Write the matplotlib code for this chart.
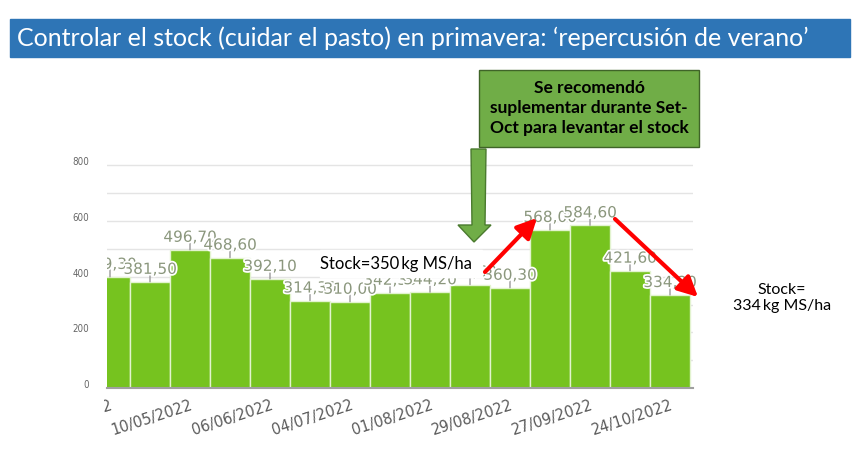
import matplotlib
matplotlib.use('Agg')
import matplotlib.pyplot as plt
import matplotlib.patheffects as pe
from matplotlib.patches import Rectangle, Polygon, FancyArrowPatch
from matplotlib.transforms import Bbox, TransformedBbox, ScaledTranslation

W, H = 862, 454

# stock (kg MS/ha) every ~2 weeks
values = [399.3, 381.5, 496.7, 468.6, 392.1, 314.3, 310.0, 342.3, 344.2,
          371.6, 360.3, 568.0, 584.6, 421.6, 334.2]
tick_labels = ['12/04/2022', '10/05/2022', '06/06/2022', '04/07/2022',
               '01/08/2022', '29/08/2022', '27/09/2022', '24/10/2022']
y_ticks = [0, 200, 400, 600, 800]

title = 'Controlar el stock (cuidar el pasto) en primavera: \u2018repercusi\u00f3n de verano\u2019'
box_text = 'Se recomend\u00f3\nsuplementar durante Set-\nOct para levantar el stock'
note_left = 'Stock=350\u2009kg MS/ha'
note_right = 'Stock=\n334\u2009kg MS/ha'


def px(x, y):
    # pixel position (top-left origin) -> figure fraction
    return (x / W, 1 - y / H)


fig = plt.figure(figsize=(W / 100, H / 100), dpi=100)
ax = fig.add_axes([107 / W, 1 - 388 / H, (693 - 107) / W, (388 - 157) / H])

n = len(values)
ax.bar(range(n), values, width=1, color='#76c31f', edgecolor='#e2f3cf',
       linewidth=1, zorder=2)
ax.set_xlim(-0.075, n - 0.5 + 0.075)
ax.set_ylim(0, 830)

ax.set_yticks(y_ticks)
ax.set_yticks(range(100, 801, 200), minor=True)
ax.yaxis.grid(True, which='both', color='#e4e4e4', lw=1)
ax.set_axisbelow(True)
ax.tick_params(axis='y', which='both', length=0, pad=13, labelsize=7,
               labelcolor='#666666')
for lbl in ax.get_yticklabels():
    lbl.set_fontstretch('condensed')
    lbl.set_transform(lbl.get_transform() + ScaledTranslation(0, 3 / 72, fig.dpi_scale_trans))

ax.set_xticks(range(0, n, 2))
ax.set_xticklabels(tick_labels, rotation=18, ha='right', va='top',
                   rotation_mode='anchor', fontsize=10.5, color='#5a5a5a')
ax.tick_params(axis='x', length=0, pad=7)
first = ax.get_xticklabels()[0]
first.set_clip_box(TransformedBbox(Bbox.from_extents(104 / W, 0, 1, 1), fig.transFigure))
first.set_clip_on(True)

for s in ['top', 'right', 'left']:
    ax.spines[s].set_visible(False)
ax.spines['bottom'].set_color('#a0a0a0')
ax.spines['bottom'].set_linewidth(1.5)

# value labels with little ticks
clip = TransformedBbox(Bbox.from_extents(107 / W, 0, 1, 1), fig.transFigure)
for i, v in enumerate(values):
    ax.annotate('', xy=(i, v), xytext=(0, 5.4), textcoords='offset points',
                arrowprops=dict(arrowstyle='-', color='#9a9a9a', lw=1,
                                shrinkA=0, shrinkB=0))
    t = ax.annotate(f'{v:.2f}'.replace('.', ','), xy=(i, v), xytext=(0, 9),
                    textcoords='offset points', ha='center', va='center',
                    fontsize=11, color='#8b977d', zorder=5,
                    path_effects=[pe.withStroke(linewidth=2.5, foreground='white')])
    t.set_clip_box(clip)
    t.set_clip_on(True)

# title band
fig.add_artist(Rectangle(px(10, 57), 840 / W, 38 / H, transform=fig.transFigure,
                         color='#2e75b6', zorder=1))
fig.text(*px(17, 38), title, color='white', fontsize=18, family='Lato',
         va='center', ha='left')

# green call-out box + arrow
fig.add_artist(Rectangle(px(479, 147), 220 / W, 77 / H, transform=fig.transFigure,
                         facecolor='#70ad47', edgecolor='#3f6428', lw=1, zorder=2))
fig.text(*px(589, 108), box_text, ha='center', va='center', fontsize=12.5,
         fontweight='bold', family='Lato', linespacing=1.3, zorder=3)
arrow_pts = [(471, 149), (486, 149), (485, 225), (491, 225), (474, 242),
             (458, 225), (472, 225)]
fig.add_artist(Polygon([px(x, y) for x, y in arrow_pts], closed=True,
                       transform=fig.transFigure, facecolor='#70ad47',
                       edgecolor='#4a7a2e', lw=1, zorder=2))

# stock notes
fig.add_artist(Rectangle(px(320, 277), 162 / W, 27 / H, transform=fig.transFigure,
                         color='white', zorder=2))
fig.text(*px(396, 264), note_left, ha='center', va='center', fontsize=12,
         family='Lato', zorder=3)
fig.text(*px(782, 298), note_right, ha='center', va='center', fontsize=11.5,
         family='Lato', linespacing=1.2, zorder=3)

# red trend arrows
for a, b in [((485, 272), (537, 218)), ((615, 219), (698, 297))]:
    fig.add_artist(FancyArrowPatch(px(*a), px(*b), transform=fig.transFigure,
                                   arrowstyle='-|>,head_length=0.6,head_width=0.3',
                                   mutation_scale=20, lw=3, color='red',
                                   shrinkA=0, shrinkB=0, zorder=4))

fig.savefig('out.png', dpi=100)
